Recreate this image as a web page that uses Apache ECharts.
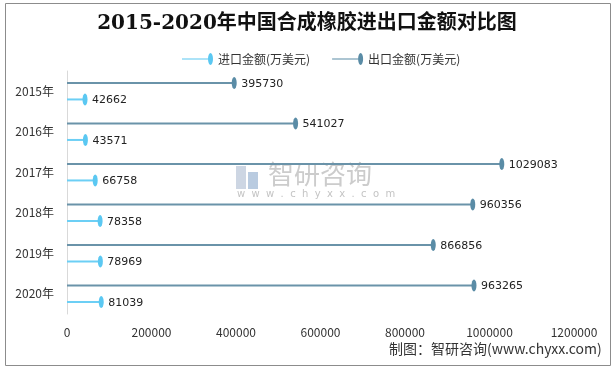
<!DOCTYPE html>
<html>
<head>
<meta charset="utf-8">
<script src="https://cdn.jsdelivr.net/npm/echarts@6/dist/echarts.min.js"></script>
<style>html,body{margin:0;padding:0;background:#fff;}#c{width:614px;height:369px;}</style>
</head>
<body>
<div id="c"></div>
<script>
const categories = ['2015年', '2016年', '2017年', '2018年', '2019年', '2020年'];
const importValues = [42662, 43571, 66758, 78358, 78969, 81039];
const exportValues = [395730, 541027, 1029083, 960356, 866856, 963265];
const xTicks = { min: 0, max: 1200000, interval: 200000 };
const importName = '进口金额(万美元)';
const exportName = '出口金额(万美元)';

const importLine = '#6ccff5';
const importDot = '#5bc8f2';
const exportLine = '#6a93a9';
const exportDot = '#5a8ca6';
const iconPath = 'path://M0 5.4 L26 5.4 L26 6.6 L0 6.6 Z M28.5 0 A2.5 6 0 1 1 28.5 12 A2.5 6 0 1 1 28.5 0 Z';

const chart = echarts.init(document.getElementById('c'), null, { renderer: 'canvas' });
const gap = '720%';
chart.setOption({
  animation: false,
  backgroundColor: '#fff',
  title: {
    text: '2015-2020年中国合成橡胶进出口金额对比图',
    left: 'center', top: 9,
    textStyle: { fontFamily: 'DejaVu Serif, Noto Sans CJK SC', fontSize: 20, fontWeight: 'bold', color: '#111' }
  },
  legend: {
    top: 48, left: 177, itemGap: 22, itemWidth: 31, itemHeight: 12,
    textStyle: { fontFamily: 'Noto Sans CJK SC', fontSize: 12, color: '#333' },
    data: [
      { name: importName, icon: iconPath, itemStyle: { color: importDot } },
      { name: exportName, icon: iconPath, itemStyle: { color: exportDot } }
    ]
  },
  grid: { left: 67, right: 40, top: 71, bottom: 55, containLabel: false },
  xAxis: {
    type: 'value', min: xTicks.min, max: xTicks.max, interval: xTicks.interval,
    axisLine: { show: false }, axisTick: { show: false }, splitLine: { show: false },
    axisLabel: { margin: 12, fontFamily: 'Noto Sans CJK SC', fontSize: 12, color: '#333', formatter: function (v) { return String(v); } }
  },
  yAxis: {
    type: 'category', data: categories, inverse: true,
    axisLine: { show: true, lineStyle: { color: '#d9d9d9', width: 1 } },
    axisTick: { show: false },
    axisLabel: { margin: 13, fontFamily: 'Noto Sans CJK SC', fontSize: 12, color: '#333' }
  },
  series: [
    {
      name: exportName, type: 'bar', data: exportValues, barWidth: 2, barGap: gap,
      itemStyle: { color: exportLine },
      label: { show: true, position: 'right', distance: 7, offset: [0, 1], fontFamily: 'DejaVu Sans', fontSize: 11, color: '#222' }
    },
    {
      name: importName, type: 'bar', data: importValues, barWidth: 2, barGap: gap,
      itemStyle: { color: importLine },
      label: { show: true, position: 'right', distance: 7, offset: [0, 1], fontFamily: 'DejaVu Sans', fontSize: 11, color: '#222' }
    },
    {
      name: exportName, type: 'pictorialBar', data: exportValues, barWidth: 2, barGap: gap,
      symbol: 'circle', symbolSize: [5, 12], symbolPosition: 'end', symbolOffset: ['50%', 0],
      itemStyle: { color: exportDot }, z: 3
    },
    {
      name: importName, type: 'pictorialBar', data: importValues, barWidth: 2, barGap: gap,
      symbol: 'circle', symbolSize: [5, 12], symbolPosition: 'end', symbolOffset: ['50%', 0],
      itemStyle: { color: importDot }, z: 3
    }
  ],
  graphic: [
    { type: 'rect', shape: { x: 5.5, y: 3.5, width: 605, height: 362 }, style: { fill: 'none', stroke: '#8c8c8c', lineWidth: 1 }, z: -10, silent: true },
    { type: 'text', left: 389, top: 342, style: { text: '制图：智研咨询(www.chyxx.com)', fontFamily: 'Noto Sans CJK SC', fontSize: 14, fill: '#333' }, z: 10 },
    { type: 'rect', shape: { x: 236, y: 166, width: 10, height: 23 }, style: { fill: '#cdd6e3' }, z: 0, silent: true },
    { type: 'rect', shape: { x: 248, y: 172, width: 10, height: 17 }, style: { fill: '#b9cbe0' }, z: 0, silent: true },
    { type: 'text', left: 268, top: 161, style: { text: '智研咨询', fontFamily: 'Noto Sans CJK SC', fontSize: 26, fill: '#cccccc' }, z: 0, silent: true },
    { type: 'text', left: 237, top: 189, style: { text: 'w  w  w  .  c  h  y  x  x  .  c  o  m', fontFamily: 'DejaVu Sans', fontSize: 10, fill: '#c4c4c4' }, z: 0, silent: true }
  ]
});
</script>
</body>
</html>
